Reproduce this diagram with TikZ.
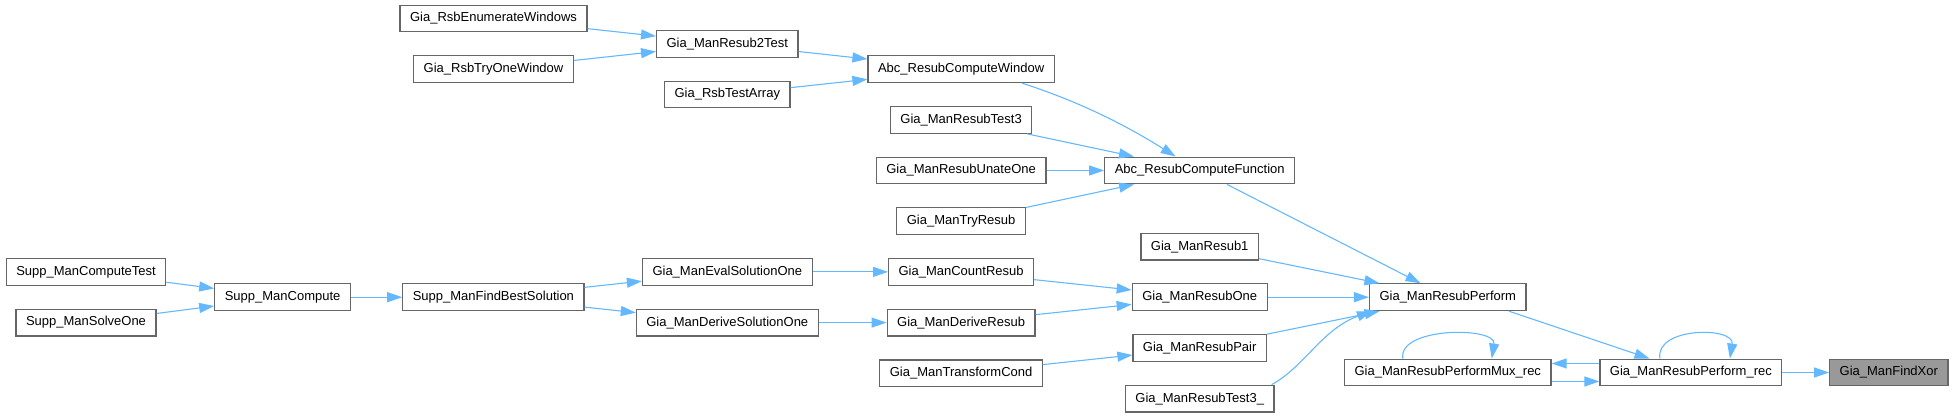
\documentclass[tikz,border=0pt]{standalone}
\usepackage{fontspec}
\setmainfont{Liberation Sans}
\usepackage{tikz}
\usetikzlibrary{arrows.meta}
\definecolor{edgeblue}{HTML}{63B8FF}
\definecolor{boxgray}{HTML}{666666}
\definecolor{focusgray}{HTML}{999999}

\begin{document}
\begin{tikzpicture}[x=1pt, y=1pt, >={Triangle[length=15pt,width=10pt]},
  fn/.style={draw=boxgray, line width=1.2pt, fill=white, inner xsep=10pt, minimum height=26.7pt, font=\fontsize{13}{15}\selectfont},
  focus/.style={fn, fill=focusgray},
  edge/.style={->, draw=edgeblue, line width=1.1pt}]
\useasboundingbox (0,0) rectangle (1954,417);
%%%%% Functions %%%%%
\node[fn] (computetest) at (86,145.1) {Supp\_ManComputeTest};
\node[fn] (solveone) at (86,94.4) {Supp\_ManSolveOne};
\node[fn] (compute) at (282.6,119.8) {Supp\_ManCompute};
\node[fn] (findbest) at (493.4,119.8) {Supp\_ManFindBestSolution};
\node[fn] (enumwin) at (493.5,398.5) {Gia\_RsbEnumerateWindows};
\node[fn] (tryonewin) at (493.5,347.8) {Gia\_RsbTryOneWindow};
\node[fn] (resubtwotest) at (727.3,373.2) {Gia\_ManResub2Test};
\node[fn] (testarray) at (727.3,322.5) {Gia\_RsbTestArray};
\node[fn] (evalone) at (727.3,145.1) {Gia\_ManEvalSolutionOne};
\node[fn] (deriveone) at (727.3,94.4) {Gia\_ManDeriveSolutionOne};
\node[fn] (compwin) at (961.1,347.8) {Abc\_ResubComputeWindow};
\node[fn] (resubtestthree) at (961.1,297.1) {Gia\_ManResubTest3};
\node[fn] (unateone) at (961.1,246.5) {Gia\_ManResubUnateOne};
\node[fn] (tryresub) at (961.1,195.8) {Gia\_ManTryResub};
\node[fn] (countresub) at (961.1,145.1) {Gia\_ManCountResub};
\node[fn] (deriveresub) at (961.1,94.4) {Gia\_ManDeriveResub};
\node[fn] (transcond) at (961.1,43.7) {Gia\_ManTransformCond};
\node[fn] (compfunc) at (1199.7,246.5) {Abc\_ResubComputeFunction};
\node[fn] (resubfirst) at (1199.7,170.4) {Gia\_ManResub1};
\node[fn] (resubone) at (1199.7,119.8) {Gia\_ManResubOne};
\node[fn] (resubpair) at (1199.7,69.1) {Gia\_ManResubPair};
\node[fn] (resubtestlast) at (1199.7,18.4) {Gia\_ManResubTest3\_};
\node[fn] (perform) at (1447.8,119.8) {Gia\_ManResubPerform};
\node[fn] (muxrec) at (1447.8,44.5) {Gia\_ManResubPerformMux\_rec};
\node[fn] (performrec) at (1690.9,44.5) {Gia\_ManResubPerform\_rec};
\node[focus] (findxor) at (1888.8,44.5) {Gia\_ManFindXor};
%%%%% Calls %%%%%
\foreach \a/\b in {computetest/compute, solveone/compute, compute/findbest,
  findbest/evalone, findbest/deriveone, evalone/countresub, deriveone/deriveresub,
  enumwin/resubtwotest, tryonewin/resubtwotest, resubtwotest/compwin, testarray/compwin,
  resubtestthree/compfunc, unateone/compfunc, tryresub/compfunc,
  countresub/resubone, deriveresub/resubone, transcond/resubpair,
  compfunc/perform, resubfirst/perform, resubone/perform, resubpair/perform,
  performrec/findxor}{
\draw[edge] (\a) -- (\b);
}
\draw[edge] ([xshift=61pt]compwin.south) .. controls +(57,-18.5) and +(-51,32) .. ([xshift=-24pt]compfunc.north);
\draw[edge] ([xshift=-3pt]resubtestlast.north east) .. controls +(33,18) and +(-50,-18) .. ([xshift=3pt]perform.south west);
\draw[edge] ([xshift=61pt]perform.south) -- (performrec);
\draw[edge] ([yshift=9pt]performrec.west) -- ([yshift=9pt]muxrec.east);
\draw[edge] ([yshift=-9pt]muxrec.east) -- ([yshift=-9pt]performrec.west);
%%%%% Recursion %%%%%
\draw[edge] ([xshift=-45pt]muxrec.north) .. controls +(-5,32) and +(5,32) .. ([xshift=44pt]muxrec.north);
\draw[edge] ([xshift=-31pt]performrec.north) .. controls +(-5,32) and +(5,32) .. ([xshift=39pt]performrec.north);
\end{tikzpicture}
\end{document}
